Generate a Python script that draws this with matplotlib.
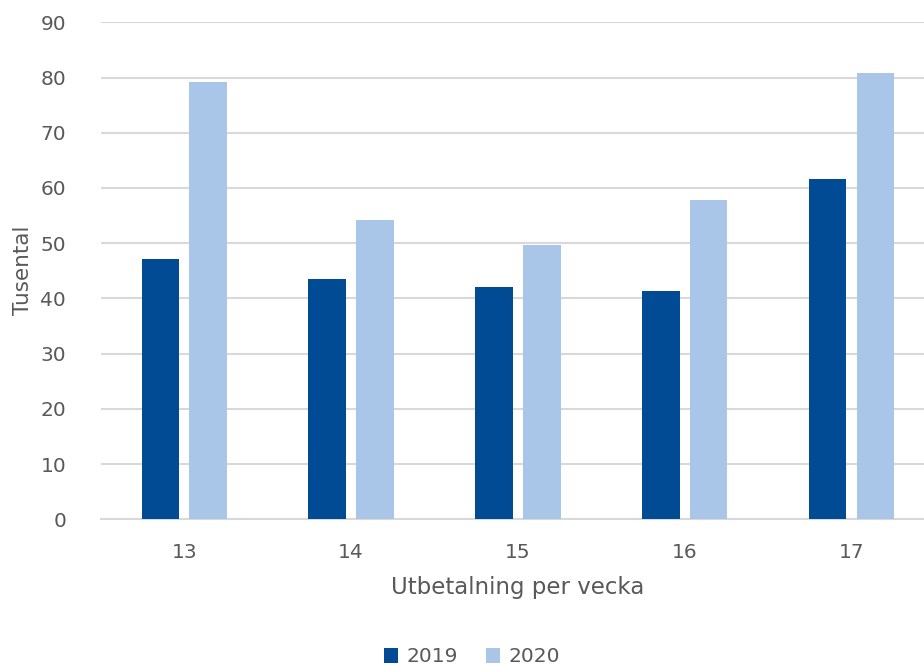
import matplotlib.pyplot as plt
import numpy as np

weeks = ['13', '14', '15', '16', '17']
values_2019 = [47.1, 43.6, 42.1, 41.4, 61.6]
values_2020 = [79.2, 54.2, 49.7, 57.9, 80.9]
years = ['2019', '2020']
yticks = [0, 10, 20, 30, 40, 50, 60, 70, 80, 90]

dark_blue = '#004b93'
light_blue = '#a9c6e9'
text_col = '#595959'

plt.rcParams['font.family'] = ['DejaVu Sans']

fig = plt.figure(figsize=(9.24, 6.66), dpi=100)
ax = fig.add_axes([0.1092, 0.2203, 0.9026, 0.7462])

x = np.arange(len(weeks))
w = 0.225
off = 0.1435
ax.bar(x - off, values_2019, w, color=dark_blue, label=years[0], zorder=3)
ax.bar(x + off, values_2020, w, color=light_blue, label=years[1], zorder=3)

ax.set_xlim(-0.5, len(weeks) - 0.5)
ax.set_ylim(0, 90)
ax.set_yticks(yticks)
ax.set_xticks(x)
ax.set_xticklabels(weeks)
ax.yaxis.grid(True, color='#d9d9d9', linewidth=1.5, zorder=0)
ax.set_axisbelow(True)

for s in ['top', 'right', 'left']:
    ax.spines[s].set_visible(False)
ax.spines['bottom'].set_color('#d9d9d9')
ax.spines['bottom'].set_linewidth(1.5)

fs = 14.5
ax.tick_params(axis='both', length=0, labelsize=fs, colors=text_col)
ax.tick_params(axis='y', pad=25)
ax.tick_params(axis='x', pad=17)

ax.set_ylabel('Tusental', fontsize=15.5, color=text_col, labelpad=5)
ax.set_xlabel('Utbetalning per vecka', fontsize=16.5, color=text_col, labelpad=10)

fig.legend(loc='center', bbox_to_anchor=(472 / 924, 1 - 657 / 666), ncol=2,
           frameon=False, fontsize=fs, handlelength=0.7, handleheight=0.7,
           handletextpad=0.4, columnspacing=1.4, labelcolor=text_col)

fig.savefig('out.png', dpi=100)
